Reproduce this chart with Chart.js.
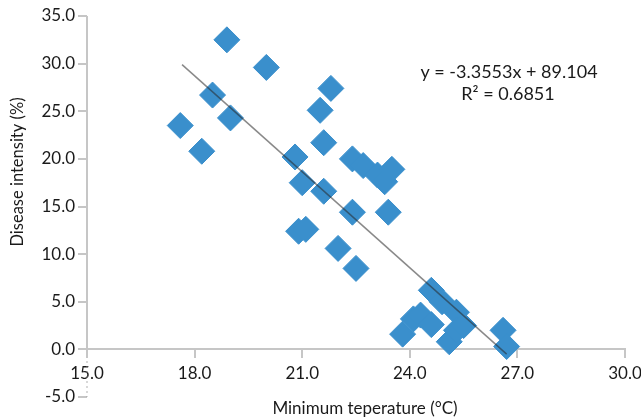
<!DOCTYPE html>
<html>
<head>
<meta charset="utf-8">
<script src="https://cdn.jsdelivr.net/npm/chart.js@4.4.0/dist/chart.umd.min.js"></script>
<style>
    html, body { margin: 0; padding: 0; background: #fff; }
    #chart { display: block; }
</style>
</head>
<body>
<canvas id="chart" width="641" height="420"></canvas>
<script>
// Observations: minimum temperature (°C) vs disease intensity (%)
const minTemp = [17.6, 18.2, 18.5, 18.9, 19.0, 20.0, 20.8, 20.9, 21.1, 21.0, 21.5, 21.6,
                 21.6, 21.8, 22.0, 22.4, 22.5, 22.4, 22.7, 23.1, 23.3, 23.5, 23.4, 23.8,
                 24.1, 24.3, 24.6, 24.6, 24.9, 25.1, 25.3, 25.3, 25.5, 26.6, 26.7];
const intensity = [23.5, 20.8, 26.7, 32.5, 24.3, 29.6, 20.2, 12.4, 12.6, 17.5, 25.1, 21.7,
                   16.6, 27.4, 10.6, 14.4, 8.5, 20.0, 19.3, 18.3, 17.6, 18.9, 14.4, 1.6,
                   3.2, 3.6, 2.6, 6.2, 5.0, 0.8, 3.9, 2.0, 2.5, 2.0, 0.3];

// Linear trendline, end points as drawn
const trendX = [17.65, 26.7];
const trendY = [29.9, -0.5];
const trendEquation = 'y = -3.3553x + 89.104';
const trendR2 = 'R\u00B2 = 0.6851';

// Axis ticks
const xMin = 15, xMax = 30, xStep = 3;
const yMin = -5, yMax = 35, yStep = 5;

const xTitle = 'Minimum teperature (\u00B0C)';
const yTitle = 'Disease intensity (%)';

const FONT = 'Lato, "Open Sans", sans-serif';
const AXIS_GREY = '#c6c6c6';

// y axis line: solid down to 0, faint dotted below it
const yAxisLine = {
    id: 'yAxisLine',
    beforeDatasetsDraw(chart) {
        const { ctx, chartArea, scales } = chart;
        const x = scales.x.getPixelForValue(xMin);
        const y0 = scales.y.getPixelForValue(0);
        ctx.save();
        ctx.lineWidth = 2;
        ctx.strokeStyle = AXIS_GREY;
        ctx.beginPath();
        ctx.moveTo(x, chartArea.top);
        ctx.lineTo(x, y0);
        ctx.stroke();
        ctx.setLineDash([1, 4]);
        ctx.strokeStyle = '#999';
        ctx.lineWidth = 1.5;
        ctx.beginPath();
        ctx.moveTo(x, y0 + 12);
        ctx.lineTo(x, chartArea.bottom);
        ctx.stroke();
        ctx.restore();
    }
};

const textLabels = {
    id: 'textLabels',
    afterDraw(chart) {
        const ctx = chart.ctx;
        ctx.save();
        ctx.fillStyle = '#1a1a1a';
        ctx.textAlign = 'center';
        ctx.textBaseline = 'alphabetic';
        // trendline equation
        ctx.font = '18px ' + FONT;
        ctx.fillText(trendEquation, 509, 78);
        ctx.fillText(trendR2, 508, 100);
        // x axis title
        ctx.font = '17px ' + FONT;
        ctx.fillText(xTitle, 365, 414);
        // y axis title
        ctx.font = '16.5px ' + FONT;
        ctx.translate(23, 172);
        ctx.rotate(-Math.PI / 2);
        ctx.fillText(yTitle, 0, 0);
        ctx.restore();
    }
};

const points = minTemp.map((x, i) => ({ x: x, y: intensity[i] }));
const trendPoints = trendX.map((x, i) => ({ x: x, y: trendY[i] }));

new Chart(document.getElementById('chart'), {
    type: 'scatter',
    data: {
        datasets: [{
            label: 'Trend',
            type: 'line',
            data: trendPoints,
            borderColor: 'rgba(40, 40, 40, 0.55)',
            borderWidth: 1.5,
            pointRadius: 0,
            fill: false,
            order: 0
        }, {
            label: 'Disease intensity',
            data: points,
            pointStyle: 'rectRot',
            pointRadius: 13,
            pointBackgroundColor: '#3a8fcc',
            pointBorderColor: '#3a8fcc',
            pointBorderWidth: 1,
            order: 1
        }]
    },
    options: {
        responsive: false,
        animation: false,
        layout: { padding: { left: 0, right: 16, top: 16, bottom: 23 } },
        plugins: {
            legend: { display: false },
            tooltip: { enabled: false }
        },
        scales: {
            x: {
                type: 'linear',
                position: { y: 0 },
                min: xMin,
                max: xMax,
                afterFit(scale) {
                    scale.height = 0;
                    scale.paddingLeft = 0;
                    scale.paddingRight = 0;
                },
                ticks: {
                    stepSize: xStep,
                    padding: 6,
                    color: '#1a1a1a',
                    font: { family: FONT, size: 17 },
                    callback: v => v.toFixed(1)
                },
                grid: {
                    drawOnChartArea: false,
                    tickLength: 8,
                    color: AXIS_GREY,
                    lineWidth: 2
                },
                border: { color: AXIS_GREY, width: 2 }
            },
            y: {
                type: 'linear',
                min: yMin,
                max: yMax,
                afterFit(scale) {
                    scale.width = 87;
                    scale.paddingTop = 0;
                    scale.paddingBottom = 0;
                },
                ticks: {
                    stepSize: yStep,
                    padding: 3,
                    color: '#1a1a1a',
                    font: { family: FONT, size: 17 },
                    callback: v => v.toFixed(1)
                },
                grid: {
                    drawOnChartArea: false,
                    tickLength: 9,
                    color: AXIS_GREY,
                    lineWidth: 2
                },
                border: { display: false }
            }
        }
    },
    plugins: [yAxisLine, textLabels]
});
</script>
</body>
</html>
